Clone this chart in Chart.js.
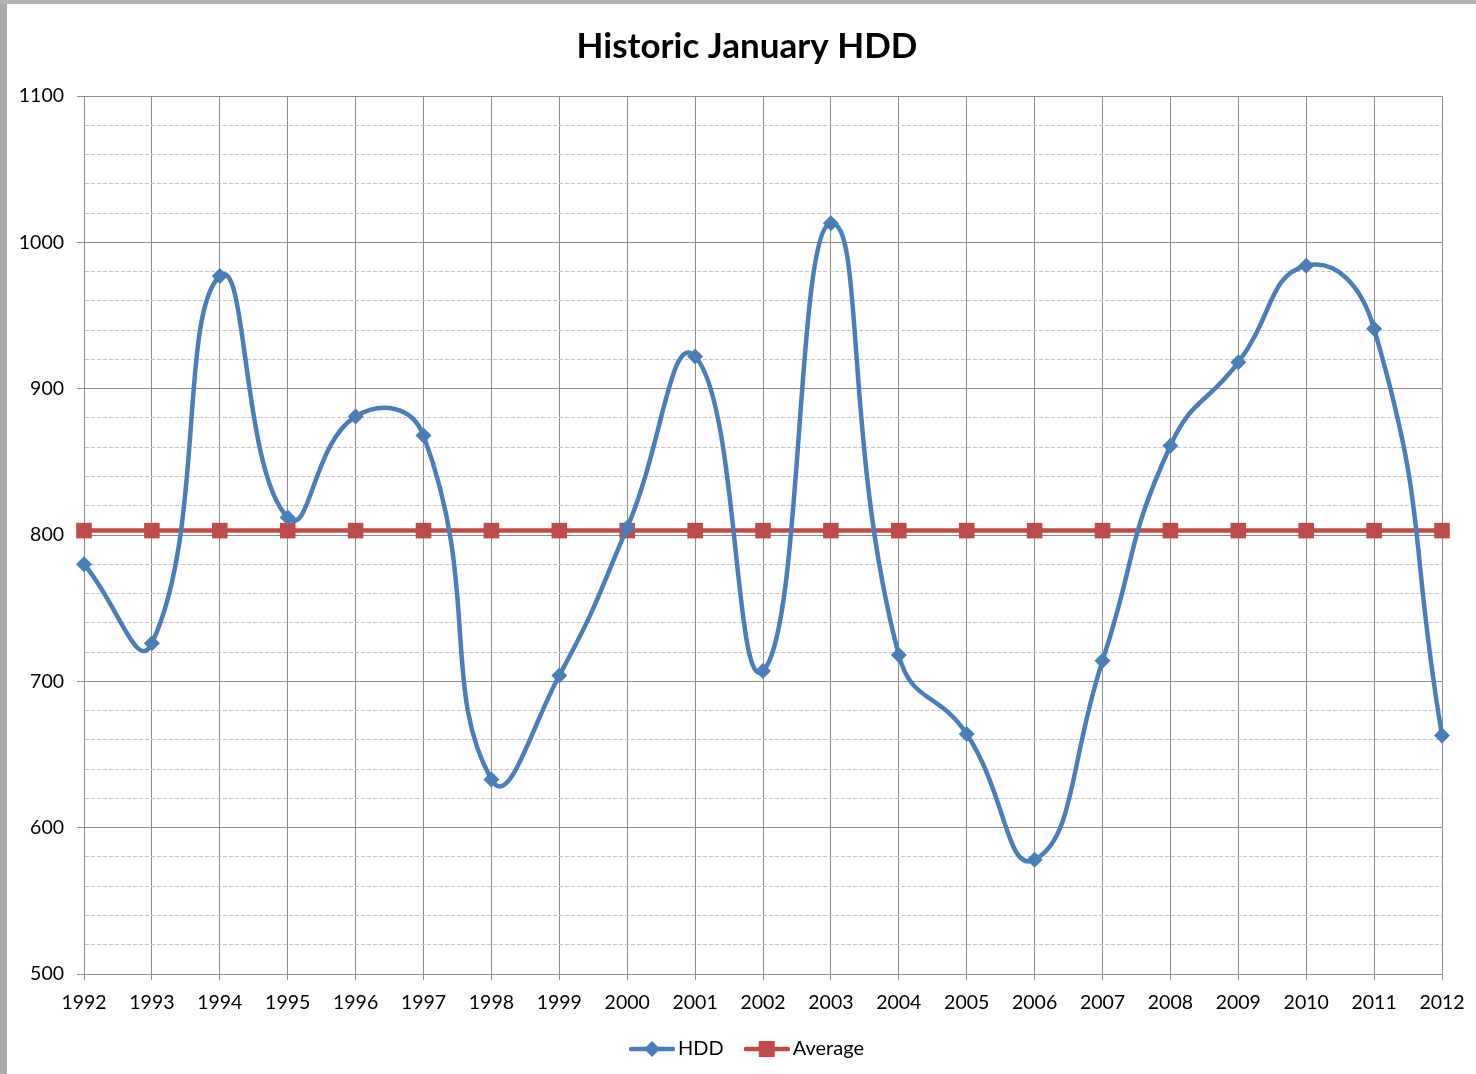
<!DOCTYPE html>
<html>
<head>
<meta charset="utf-8">
<script src="https://cdn.jsdelivr.net/npm/chart.js@4/dist/chart.umd.min.js"></script>
<style>
  html, body { margin: 0; padding: 0; background: #ffffff; }
  #wrap { position: relative; width: 1476px; height: 1074px; overflow: hidden; }
  #c { position: absolute; left: 0; top: 0; }
  .stripL { position: absolute; left: 0; top: 0; width: 7px; height: 1074px; background: #a9a9a9; }
  .stripT { position: absolute; left: 0; top: 0; width: 1476px; height: 4px; background: #b4b4b4; }
</style>
</head>
<body>
<div id="wrap">
  <canvas id="c" width="1476" height="1074"></canvas>
  <div class="stripL"></div>
  <div class="stripT"></div>
</div>
<script>
const years = ['1992','1993','1994','1995','1996','1997','1998','1999','2000','2001','2002','2003','2004','2005','2006','2007','2008','2009','2010','2011','2012'];
const hdd = [780, 726, 977, 812, 881, 868, 633, 704, 805, 922, 707, 1013, 718, 664, 578, 714, 861, 918, 984, 941, 663];
const average = [803, 803, 803, 803, 803, 803, 803, 803, 803, 803, 803, 803, 803, 803, 803, 803, 803, 803, 803, 803, 803];
const yMin = 500, yMax = 1100, yMinorStep = 20, yMajorStep = 100;

const BLUE = '#4a7ebb';
const RED = '#be4b48';
const GRID = '#8c8c8c';
const MINOR = '#c4c4c4';
const FONT = 'Lato, "Open Sans", "DejaVu Sans", sans-serif';

function legendIcon(color, shape) {
  const cv = document.createElement('canvas');
  cv.width = 46; cv.height = 18;
  const g = cv.getContext('2d');
  g.strokeStyle = color; g.lineWidth = 4.5; g.lineCap = 'round';
  g.beginPath(); g.moveTo(2, 9); g.lineTo(44, 9); g.stroke();
  g.fillStyle = color;
  if (shape === 'diamond') {
    g.beginPath(); g.moveTo(23, 1); g.lineTo(31, 9); g.lineTo(23, 17); g.lineTo(15, 9); g.closePath(); g.fill();
  } else {
    g.fillRect(15, 1, 16, 16);
  }
  return cv;
}
const iconHDD = legendIcon(BLUE, 'diamond');
const iconAvg = legendIcon(RED, 'square');

const isMajor = (v) => Math.abs(v % yMajorStep) < 1e-6;

// Centre title and legend over the plot like the original (shift their boxes)
const centerShift = {
  id: 'centerShift',
  afterLayout(chart) {
    if (chart.titleBlock) { chart.titleBlock.left += 52; }
    if (chart.legend) { chart.legend.left += 58; chart.legend.right += 0; }
  }
};

new Chart(document.getElementById('c'), {
  type: 'line',
  data: {
    labels: years,
    datasets: [
      {
        label: 'HDD',
        data: hdd,
        borderColor: BLUE,
        backgroundColor: BLUE,
        borderWidth: 4.5,
        tension: 0.5,
        pointStyle: 'rectRot',
        pointRadius: 8,
        pointBorderWidth: 0,
        pointBackgroundColor: BLUE,
        fill: false
      },
      {
        label: 'Average',
        data: average,
        borderColor: RED,
        backgroundColor: RED,
        borderWidth: 4.5,
        tension: 0,
        pointStyle: 'rect',
        pointRadius: 11,
        pointBorderWidth: 0,
        pointBackgroundColor: RED,
        fill: false
      }
    ]
  },
  plugins: [centerShift],
  options: {
    responsive: false,
    animation: false,
    devicePixelRatio: 1,
    layout: { padding: { left: 0, right: 34, top: 0, bottom: 5 } },
    plugins: {
      title: {
        display: true,
        text: 'Historic January HDD',
        color: '#000000',
        font: { family: FONT, size: 35, weight: 'bold', lineHeight: 1.2 },
        padding: { top: 26, bottom: 28 }
      },
      legend: {
        display: true,
        position: 'bottom',
        labels: {
          color: '#000000',
          font: { family: FONT, size: 20 },
          usePointStyle: true,
          pointStyleWidth: 32,
          padding: 27,
          generateLabels: (chart) => chart.data.datasets.map((ds, i) => ({
            text: ds.label,
            pointStyle: i === 0 ? iconHDD : iconAvg,
            fillStyle: ds.borderColor,
            strokeStyle: ds.borderColor,
            lineWidth: 0,
            hidden: false,
            datasetIndex: i,
            fontColor: '#000000'
          }))
        }
      },
      tooltip: { enabled: false }
    },
    scales: {
      x: {
        type: 'category',
        offset: false,
        grid: {
          color: GRID,
          lineWidth: 1,
          drawTicks: true,
          tickLength: 6,
          tickColor: GRID,
          offset: false
        },
        border: { display: true, color: GRID, width: 1 },
        ticks: {
          color: '#000000',
          font: { family: FONT, size: 19.5 },
          padding: 11,
          maxRotation: 0,
          autoSkip: false
        },
        afterFit: (s) => { s.height = 38; }
      },
      y: {
        min: yMin,
        max: yMax,
        grid: {
          color: (ctx) => (ctx.tick && isMajor(ctx.tick.value)) ? GRID : MINOR,
          lineWidth: 1,
          tickLength: 7,
          tickColor: (ctx) => (ctx.tick && isMajor(ctx.tick.value)) ? GRID : 'rgba(0,0,0,0)'
        },
        border: {
          display: true,
          color: GRID,
          width: 1,
          dash: (ctx) => (ctx.tick && !isMajor(ctx.tick.value)) ? [4, 2] : []
        },
        ticks: {
          stepSize: yMinorStep,
          autoSkip: false,
          color: '#000000',
          font: { family: FONT, size: 19.5 },
          padding: 13,
          callback: (v) => isMajor(v) ? String(v) : ''
        },
        afterFit: (s) => { s.width = 84; }
      }
    }
  }
});
</script>
</body>
</html>
